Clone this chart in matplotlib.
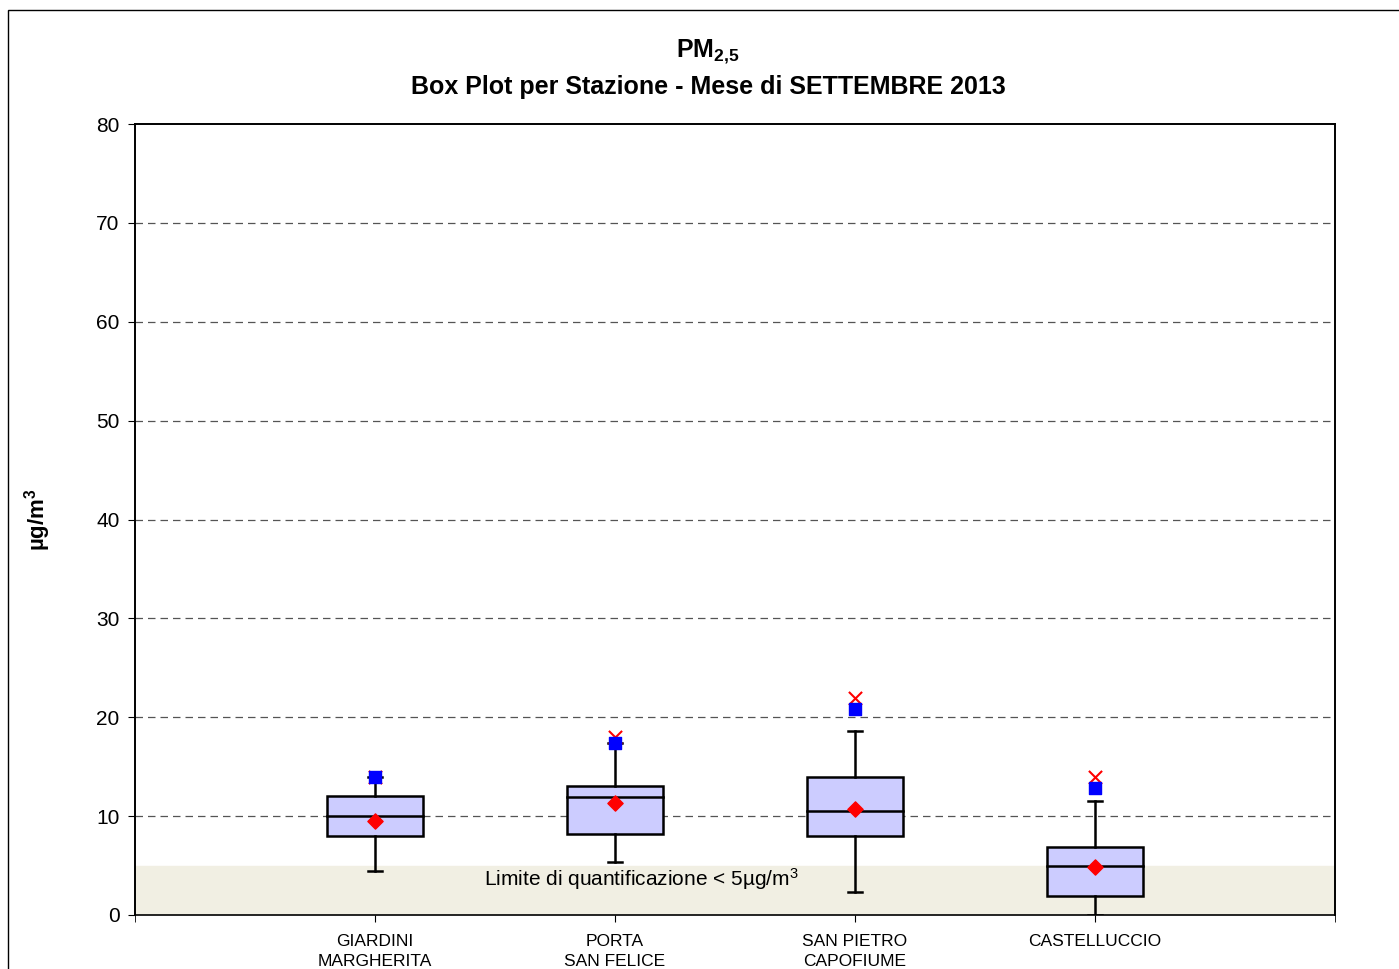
import matplotlib.pyplot as plt
import matplotlib.patches as mpatches
import numpy as np

plt.rcParams['font.family'] = ['Liberation Sans', 'DejaVu Sans']
plt.rcParams['mathtext.fontset'] = 'custom'
plt.rcParams['mathtext.rm'] = 'Liberation Sans'
plt.rcParams['mathtext.bf'] = 'Liberation Sans:bold'
plt.rcParams['mathtext.it'] = 'Liberation Sans:italic'

stations = ['GIARDINI\nMARGHERITA', 'PORTA\nSAN FELICE', 'SAN PIETRO\nCAPOFIUME', 'CASTELLUCCIO']
q1 = [8.0, 8.2, 8.0, 1.9]
median = [10.0, 11.9, 10.5, 5.0]
q3 = [12.0, 13.0, 14.0, 6.9]
whisk_lo = [4.5, 5.4, 2.3, 0.0]
whisk_hi = [14.0, 17.4, 18.6, 11.5]
mean = [9.5, 11.3, 10.7, 4.9]
p98 = [14.0, 17.4, 20.8, 12.8]
maxv = [14.0, 18.0, 21.9, 14.0]
loq = 5

fig = plt.figure(figsize=(13.99, 9.69), dpi=100)
ax = fig.add_axes([135/1399, 1-915/969, 1200/1399, 791/969])

# outer chart frame
fig.patches.append(mpatches.Rectangle((8/1399, -0.05), 1.2, 1-10/969+0.05,
                                      transform=fig.transFigure, fill=False,
                                      edgecolor='black', linewidth=1.0))

ax.set_xlim(0, 5)
ax.set_ylim(0, 80)
ax.set_yticks(np.arange(0, 81, 10))
for y in range(10, 80, 10):
    ax.axhline(y, color='#555555', linestyle=(0, (6, 4)), linewidth=0.9, zorder=0)

ax.axhspan(0, loq, color='#F1EFE3', zorder=0.5)
ax.text(2.11, 3.6, 'Limite di quantificazione < 5µg/m$^\\mathregular{3}$', fontsize=15,
        ha='center', va='center', zorder=1)

pos = np.arange(1, len(stations) + 1)
bw = 0.4
cap = 0.03
for i, x in enumerate(pos):
    ax.add_patch(mpatches.Rectangle((x - bw/2, q1[i]), bw, q3[i] - q1[i],
                                    facecolor='#CCCCFF', edgecolor='black',
                                    linewidth=1.8, zorder=2))
    ax.plot([x - bw/2, x + bw/2], [median[i], median[i]], color='black', lw=1.8, zorder=3)
    ax.plot([x, x], [whisk_lo[i], q1[i]], color='black', lw=1.8, zorder=2)
    ax.plot([x, x], [q3[i], whisk_hi[i]], color='black', lw=1.8, zorder=2)
    ax.plot([x - cap, x + cap], [whisk_lo[i], whisk_lo[i]], color='black', lw=1.8, zorder=2)
    ax.plot([x - cap, x + cap], [whisk_hi[i], whisk_hi[i]], color='black', lw=1.8, zorder=2)

ax.scatter(pos, maxv, marker='x', color='red', s=90, linewidths=1.5, zorder=4)
ax.scatter(pos, p98, marker='s', color='blue', s=75, zorder=5)
ax.scatter(pos, mean, marker='D', color='red', s=60, zorder=6)

ax.set_xticks(pos)
ax.set_xticklabels(stations, fontsize=12.5, linespacing=1.35)
ax.set_xticks([0, 5], minor=True)
ax.tick_params(axis='x', which='both', direction='out', length=5, pad=9)
ax.tick_params(axis='y', labelsize=15, length=5, pad=6)

for s in ax.spines.values():
    s.set_linewidth(1.4)
ax.spines['bottom'].set_linewidth(1.2)

ax.set_ylabel('µg/m$^\\mathbf{3}$', fontsize=16, fontweight='bold')
ax.yaxis.set_label_coords(-82/1200, 0.5)

fig.text(708/1399, 1-52/969, r'PM$_{\mathbf{2{,}5}}$', ha='center', va='center',
         fontsize=18, fontweight='bold')
fig.text(708/1399, 1-87/969, 'Box Plot per Stazione - Mese di SETTEMBRE 2013',
         ha='center', va='center', fontsize=18, fontweight='bold')

fig.savefig('out.png', dpi=100)
